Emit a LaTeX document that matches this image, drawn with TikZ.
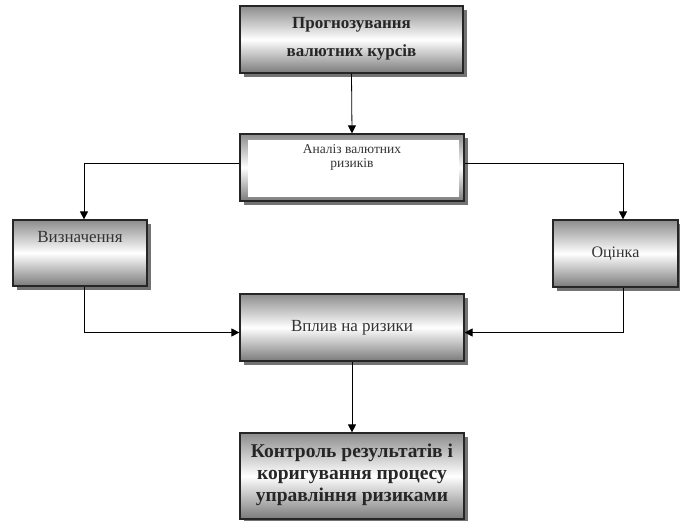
\documentclass[tikz,border=0pt]{standalone}
\usepackage{fontspec}
\setmainfont{Liberation Serif}
\usetikzlibrary{arrows.meta,shadows,calc}
\begin{document}
\begin{tikzpicture}[x=1pt,y=-1pt,
  box/.style={draw=black!85, line width=1.2pt, top color=black!45, bottom color=black!52, middle color=white,
    rectangle, inner sep=0pt, align=center,
    drop shadow={shadow xshift=4pt, shadow yshift=-4pt, fill=black!55, opacity=1}},
  conn/.style={draw=black, line width=0.8pt},
  arr/.style={conn, -{Triangle[length=8pt,width=8pt]}}]
\useasboundingbox (0,0) rectangle (680,521);
% boxes
\node[box, minimum width=223pt, minimum height=67pt] (b1) at (351.5,39.5) {};
\node[font=\fontsize{17}{28}\selectfont\bfseries, text=black!85, align=center] (t1) at ($(b1.center)+(0,-1)$) {Прогнозування\\валютних курсів};
\node[box, minimum width=224pt, minimum height=67pt] (b2) at (352,167.5) {};
\fill[white] ($(b2.north west)+(9,7)$) rectangle ($(b2.south east)+(-6,-5)$);
\node[font=\fontsize{13.5}{13.5}\selectfont, text=black!80, align=center, anchor=north] (t2) at ($(b2.north)+(0,8)$) {Аналіз валютних\\ризиків};
\node[box, minimum width=134pt, minimum height=66pt] (v) at (80,253) {};
\node[font=\fontsize{17}{18}\selectfont, text=black!80] (tv) at ($(v.north)+(0,18)$) {Визначення};
\node[box, minimum width=125pt, minimum height=67pt, font=\fontsize{16}{16}\selectfont, text=black!80] (o) at (615.5,253.5) {Оцінка};
\node[box, minimum width=224pt, minimum height=67pt, font=\fontsize{17}{18}\selectfont, text=black!80] (w) at (352,327.5) {Вплив на ризики};
\node[box, minimum width=224pt, minimum height=86pt] (k) at (352,476) {};
\node[font=\fontsize{19.5}{22}\selectfont\bfseries, text=black!85, align=center] (tk) at ($(k.center)+(0,-1)$) {Контроль результатів і\\коригування процесу\\управління ризиками};
% connectors
\draw[arr] (b1.south) -- (b2.north);
\draw[arr] ([yshift=4.5pt]b2.west) -| ([xshift=4pt]v.north);
\draw[arr] ([yshift=4.5pt]b2.east) -| ([xshift=7.5pt]o.north);
\draw[arr] ([xshift=4pt]v.south) |- ([yshift=-5pt]w.west);
\draw[arr] ([xshift=7.5pt]o.south) |- ([yshift=-5pt]w.east);
\draw[arr] (w.south) -- (k.north);
\end{tikzpicture}
\end{document}
